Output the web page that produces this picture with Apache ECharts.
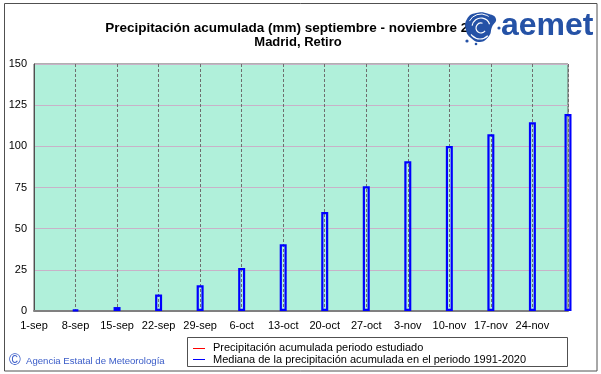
<!DOCTYPE html>
<html>
<head>
<meta charset="utf-8">
<script src="https://cdn.jsdelivr.net/npm/echarts@6/dist/echarts.min.js"></script>
<style>
  html, body { margin: 0; padding: 0; background: #ffffff; }
  #chart { width: 601px; height: 374px; }
</style>
</head>
<body>
<div id="chart"></div>
<script>
// ---- data ----
const titleLine1 = 'Precipitación acumulada (mm) septiembre - noviembre 2025';
const titleLine2 = 'Madrid, Retiro';
const startDate = '2025-09-01';
const endDate = '2025-11-30';
const xTickLabels = ['1-sep', '8-sep', '15-sep', '22-sep', '29-sep', '6-oct', '13-oct',
  '20-oct', '27-oct', '3-nov', '10-nov', '17-nov', '24-nov'];
const medianDates = ['2025-09-08', '2025-09-15', '2025-09-22', '2025-09-29', '2025-10-06',
  '2025-10-13', '2025-10-20', '2025-10-27', '2025-11-03', '2025-11-10', '2025-11-17',
  '2025-11-24', '2025-11-30'];
const medianValues = [0.8, 2.4, 10, 15.6, 26.1, 40.5, 60.1, 75.7, 90.9, 100.2, 107.3, 114.6, 119.6];
const yMin = 0, yMax = 150, yStep = 25;
const legendNames = ['Precipitación acumulada periodo estudiado',
  'Mediana de la precipitación acumulada en el periodo 1991-2020'];
const creditText = 'Agencia Estatal de Meteorología';

// ---- helpers ----
const DAY = 86400000;
const dayOffset = d => Math.round((Date.parse(d) - Date.parse(startDate)) / DAY);
const xMax = dayOffset(endDate);
const tickStep = 7;

const chart = echarts.init(document.getElementById('chart'), null, { renderer: 'canvas' });
const FONT = 'Liberation Sans, Arial, sans-serif';
const LOGO = '#2552a6';

const option = {
  animation: false,
  backgroundColor: '#ffffff',
  grid: {
    left: 34, top: 64, right: 33, bottom: 63,
    show: true,
    backgroundColor: '#b0f0da',
    borderColor: '#606060',
    borderWidth: 1
  },
  xAxis: {
    type: 'value',
    min: 0,
    max: xMax,
    interval: tickStep,
    axisLine: { show: true, onZero: false, lineStyle: { color: '#808080', width: 2 } },
    axisTick: { show: false },
    axisLabel: {
      margin: 9,
      color: '#000000',
      fontFamily: FONT,
      fontSize: 11,
      showMaxLabel: false,
      formatter: v => (v % tickStep === 0 && xTickLabels[v / tickStep] !== undefined) ? xTickLabels[v / tickStep] : ''
    },
    splitLine: { show: true, lineStyle: { color: '#6e6e6e', type: [3, 2], width: 1 } }
  },
  yAxis: {
    type: 'value',
    min: yMin,
    max: yMax,
    interval: yStep,
    axisLine: { show: true, lineStyle: { color: '#505050', width: 1 } },
    axisTick: { show: false },
    axisLabel: { margin: 7, color: '#000000', fontFamily: FONT, fontSize: 11 },
    splitLine: { show: true, lineStyle: { color: '#c8b2c8', width: 1 } }
  },
  series: [
    {
      name: legendNames[1],
      type: 'bar',
      data: medianDates.map((d, i) => [dayOffset(d), medianValues[i]]),
      barWidth: 7,
      clip: false,
      itemStyle: { color: 'rgba(0,0,0,0)', borderColor: '#0000ff', borderWidth: 2.2 }
    }
  ],
  graphic: [
    // outer frame
    { type: 'rect', shape: { x: 4.5, y: 3.5, width: 592.5, height: 367.5 },
      style: { fill: null, stroke: '#505050', lineWidth: 1 }, z: 100 },
    // title
    { type: 'text', z: 100, style: { text: titleLine1, font: 'bold 13.5px ' + FONT, fill: '#000000',
      x: 298, y: 21, align: 'center' } },
    { type: 'text', z: 100, style: { text: titleLine2, font: 'bold 13px ' + FONT, fill: '#000000',
      x: 298, y: 36, align: 'center' } },
    // logo swirl (approximation)
    { type: 'polygon', z: 110, shape: { smooth: 0.5, points: [[467, 19], [476, 13], [489, 14], [496, 19],
      [492, 27], [489, 36], [480, 42], [471, 38], [466, 30]] }, style: { fill: LOGO } },
    { type: 'arc', z: 111, shape: { cx: 481, cy: 27, r: 9, startAngle: Math.PI * 1.05, endAngle: Math.PI * 1.9 },
      style: { fill: null, stroke: '#ffffff', lineWidth: 1.2 } },
    { type: 'arc', z: 111, shape: { cx: 481, cy: 28, r: 5, startAngle: Math.PI * 0.2, endAngle: Math.PI * 1.6 },
      style: { fill: null, stroke: '#ffffff', lineWidth: 1.2 } },
    { type: 'arc', z: 111, shape: { cx: 480, cy: 28, r: 11, startAngle: Math.PI * 0.25, endAngle: Math.PI * 0.8 },
      style: { fill: null, stroke: '#ffffff', lineWidth: 1.2 } },
    { type: 'arc', z: 111, shape: { cx: 481, cy: 27, r: 13, startAngle: Math.PI * 1.15, endAngle: Math.PI * 1.7 },
      style: { fill: null, stroke: '#ffffff', lineWidth: 1 } },
    { type: 'circle', z: 110, shape: { cx: 467, cy: 41, r: 1.6 }, style: { fill: LOGO } },
    { type: 'circle', z: 110, shape: { cx: 476, cy: 44, r: 1.3 }, style: { fill: LOGO } },
    { type: 'circle', z: 110, shape: { cx: 499, cy: 28, r: 1.6 }, style: { fill: LOGO } },
    { type: 'text', z: 110, style: { text: 'aemet', font: 'bold 32px ' + FONT, fill: LOGO,
      x: 501, y: 26, verticalAlign: 'middle' } },
    // legend box
    { type: 'rect', z: 100, shape: { x: 187.5, y: 337.5, width: 380, height: 29 },
      style: { fill: '#ffffff', stroke: '#505050', lineWidth: 1 } },
    { type: 'line', z: 101, shape: { x1: 193, y1: 348.5, x2: 205, y2: 348.5 },
      style: { stroke: '#ff0000', lineWidth: 1 } },
    { type: 'line', z: 101, shape: { x1: 193, y1: 359.5, x2: 205, y2: 359.5 },
      style: { stroke: '#0000ff', lineWidth: 1 } },
    { type: 'text', z: 101, style: { text: legendNames[0], font: '11px ' + FONT, fill: '#000000',
      x: 213, y: 348, verticalAlign: 'middle' } },
    { type: 'text', z: 101, style: { text: legendNames[1], font: '11px ' + FONT, fill: '#000000',
      x: 213, y: 359.5, verticalAlign: 'middle' } },
    // credit
    { type: 'text', z: 101, style: { text: '©', font: '16px ' + FONT, fill: '#3a5cc8',
      x: 9, y: 361, verticalAlign: 'middle' } },
    { type: 'text', z: 101, style: { text: creditText, font: '9.6px ' + FONT, fill: '#3a5cc8',
      x: 26, y: 361, verticalAlign: 'middle' } }
  ]
};
chart.setOption(option);
</script>
</body>
</html>
